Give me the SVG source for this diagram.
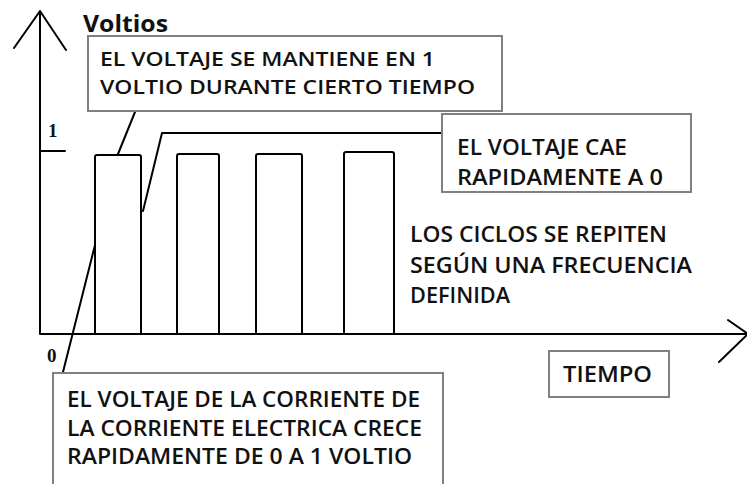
<svg xmlns="http://www.w3.org/2000/svg" width="747" height="484" viewBox="0 0 747 484">
<style>
.ax{stroke:#000;stroke-width:2;fill:none;stroke-linecap:round;stroke-linejoin:round}
.ln{stroke:#000;stroke-width:2;fill:none;stroke-linecap:round;stroke-linejoin:round}
.box{fill:#fff;stroke:#808080;stroke-width:2}
.t{font-family:"Open Sans",Lato,"Liberation Sans",sans-serif;font-weight:600;font-size:22px;fill:#111}
.t2{font-size:20.5px}
.num{font-family:"Liberation Serif","DejaVu Serif",serif;font-weight:bold;font-size:19px;fill:#111}
</style>
<rect width="747" height="484" fill="#fff"/>
<g id="axes">
<path class="ax" d="M40,333 V11 M14,48 L40,11 L66,50"/>
<path class="ax" d="M40,334 H748 M728,320 L748,334 L719,362"/>
<path class="ax" d="M40,151 H65"/>
<text class="num" x="48" y="137">1</text>
<text class="num" x="47" y="362">0</text>
<text class="t" x="83" y="32" style="font-size:24px;font-weight:bold" textLength="85" lengthAdjust="spacingAndGlyphs">Voltios</text>
</g>
<g id="pulses">
<path class="ln" d="M95,334 V157 Q95,155 97,155 H139 Q141,155 141,157 V334"/>
<path class="ln" d="M177,334 V156 Q177,154 179,154 H217 Q219,154 219,156 V334"/>
<path class="ln" d="M256,334 V156 Q256,154 258,154 H300 Q302,154 302,156 V334"/>
<path class="ln" d="M344,334 V154 Q344,152 346,152 H392 Q394,152 394,154 V334"/>
</g>
<g id="connectors">
<path class="ln" d="M135,112 L118,154"/>
<path class="ln" d="M143,211 L162,133 H442"/>
<path class="ln" d="M63,372 L95,245"/>
</g>
<g id="box-mantiene">
<rect class="box" x="88" y="36" width="414" height="75"/>
<text class="t t2" x="100" y="66" textLength="335" lengthAdjust="spacingAndGlyphs">EL VOLTAJE SE MANTIENE EN 1</text>
<text class="t t2" x="100" y="94" textLength="375" lengthAdjust="spacingAndGlyphs">VOLTIO DURANTE CIERTO TIEMPO</text>
</g>
<g id="box-cae">
<rect class="box" x="442" y="114" width="249" height="78"/>
<text class="t" x="457" y="155" textLength="170" lengthAdjust="spacingAndGlyphs">EL VOLTAJE CAE</text>
<text class="t" x="457" y="185" textLength="206" lengthAdjust="spacingAndGlyphs">RAPIDAMENTE A 0</text>
</g>
<g id="ciclos">
<text class="t" x="410" y="242" textLength="257" lengthAdjust="spacingAndGlyphs">LOS CICLOS SE REPITEN</text>
<text class="t" x="410" y="273" textLength="282" lengthAdjust="spacingAndGlyphs">SEGÚN UNA FRECUENCIA</text>
<text class="t" x="410" y="303" textLength="100" lengthAdjust="spacingAndGlyphs">DEFINIDA</text>
</g>
<g id="box-tiempo">
<rect class="box" x="549" y="351" width="120" height="46"/>
<text class="t" x="563" y="382" textLength="89" lengthAdjust="spacingAndGlyphs">TIEMPO</text>
</g>
<g id="box-crece">
<rect class="box" x="53" y="373" width="390" height="125"/>
<text class="t" x="67" y="407" textLength="353" lengthAdjust="spacingAndGlyphs">EL VOLTAJE DE LA CORRIENTE DE</text>
<text class="t" x="67" y="436" textLength="355" lengthAdjust="spacingAndGlyphs">LA CORRIENTE ELECTRICA CRECE</text>
<text class="t" x="67" y="464" textLength="345" lengthAdjust="spacingAndGlyphs">RAPIDAMENTE DE 0 A 1 VOLTIO</text>
</g>
</svg>
